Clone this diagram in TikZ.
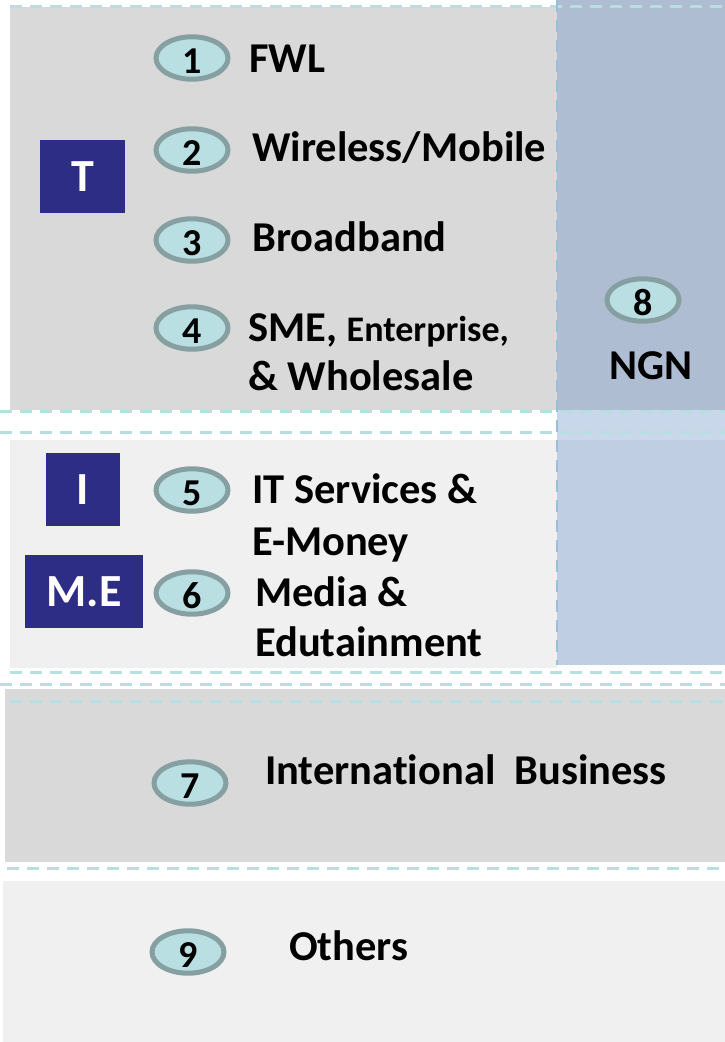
\documentclass[tikz,border=0pt]{standalone}
\usepackage{fontspec}
\setmainfont{Carlito}[Ligatures={NoCommon}]
\usetikzlibrary{shapes.geometric}
\definecolor{bandgray}{HTML}{D9D9D9}
\definecolor{bandlight}{HTML}{F0F0F0}
\definecolor{ngndark}{HTML}{AEBDD2}
\definecolor{ngnmid}{HTML}{C8D7EA}
\definecolor{ngnlight}{HTML}{BFCEE2}
\definecolor{dashteal}{HTML}{B7DEE1}
\definecolor{dashblue}{HTML}{98C0D4}
\definecolor{ovalfill}{HTML}{B9DFE2}
\definecolor{ovalrim}{HTML}{86A0A2}
\definecolor{navy}{HTML}{2E2D86}
\tikzset{
	numoval/.style={ellipse, draw=ovalrim, line width=5pt, fill=ovalfill, minimum width=72pt, minimum height=42pt, inner sep=0pt, text height=30pt, text depth=0pt, font=\fontsize{38}{38}\selectfont\bfseries},
	itemtext/.style={anchor=base west, inner sep=0pt, font=\fontsize{42.5}{42.5}\selectfont\bfseries},
	letterbox/.style={fill=navy, text=white, inner sep=0pt, font=\fontsize{46}{46}\selectfont\bfseries},
	sepline/.style={dashteal, line width=3pt, dash pattern=on 12pt off 8pt},
}

\begin{document}
\begin{tikzpicture}[x=1pt, y=-1pt]
		%%%%% START %%%%%
		\useasboundingbox[fill=white] (0, 0) rectangle (725, 1042);
		
		\fill[bandgray] (10, 7) rectangle (557, 410);
		\fill[ngndark] (557, 0) rectangle (725, 410);
		\fill[ngnmid] (557, 410) rectangle (725, 440);
		\fill[ngnlight] (557, 440) rectangle (725, 665);
		\fill[bandlight] (10, 440) rectangle (557, 668);
		\fill[bandgray] (5, 689) rectangle (725, 862);
		\fill[bandlight] (3, 881) rectangle (725, 1042);
		
		\draw[sepline] (10, 6) -- (725, 6);
		\draw[sepline] (0, 411) -- (725, 411);
		\draw[sepline] (0, 432) -- (725, 432);
		\draw[sepline] (10, 672) -- (725, 672);
		\draw[sepline] (0, 684) -- (725, 684);
		\draw[sepline] (10, 701) -- (725, 701);
		\draw[sepline] (7, 868) -- (725, 868);
		\draw[sepline, dashblue, line width=2.5pt] (557, 0) -- (557, 665);
		
		\node[letterbox, minimum width=85pt, minimum height=73pt] (boxT) at (82.5, 176.5) {T};
		\node[letterbox, minimum width=74pt, minimum height=73pt] (boxI) at (83, 489.5) {I};
		\node[letterbox, minimum width=118pt, minimum height=73pt] (boxME) at (84, 591.5) {M.E};
		
		\node[numoval] (n1) at (192, 58) {1};
		\node[numoval] (n2) at (192, 150) {2};
		\node[numoval] (n3) at (192, 240) {3};
		\node[numoval] (n4) at (192, 328) {4};
		\node[numoval] (n5) at (192, 490) {5};
		\node[numoval] (n6) at (192, 593) {6};
		\node[numoval] (n7) at (190, 783) {7};
		\node[numoval] (n8) at (643, 300) {8};
		\node[numoval] (n9) at (188, 952) {9};
		
		\node[itemtext] (fwl) at (249, 72) {FWL};
		\node[itemtext] (mobile) at (252, 161) {Wireless/Mobile};
		\node[itemtext] (broadband) at (252, 251) {Broadband};
		\node[itemtext] (sme) at (248, 341) {SME, {\fontsize{36}{36}\selectfont Enterprise,}};
		\node[itemtext] (wholesale) at (248, 390) {\& Wholesale};
		\node[itemtext] (itserv) at (252, 503) {IT Services \&};
		\node[itemtext] (emoney) at (252, 555) {E-Money};
		\node[itemtext] (media) at (255, 606) {Media \&};
		\node[itemtext] (edu) at (255, 656) {Edutainment};
		\node[itemtext] (intl) at (265, 784) {International\ \ Business};
		\node[itemtext] (others) at (289, 960) {Others};
		\node[itemtext, anchor=base] (ngn) at (651, 379) {NGN};
		
		%%%%% END %%%%%
	\end{tikzpicture}
\end{document}
